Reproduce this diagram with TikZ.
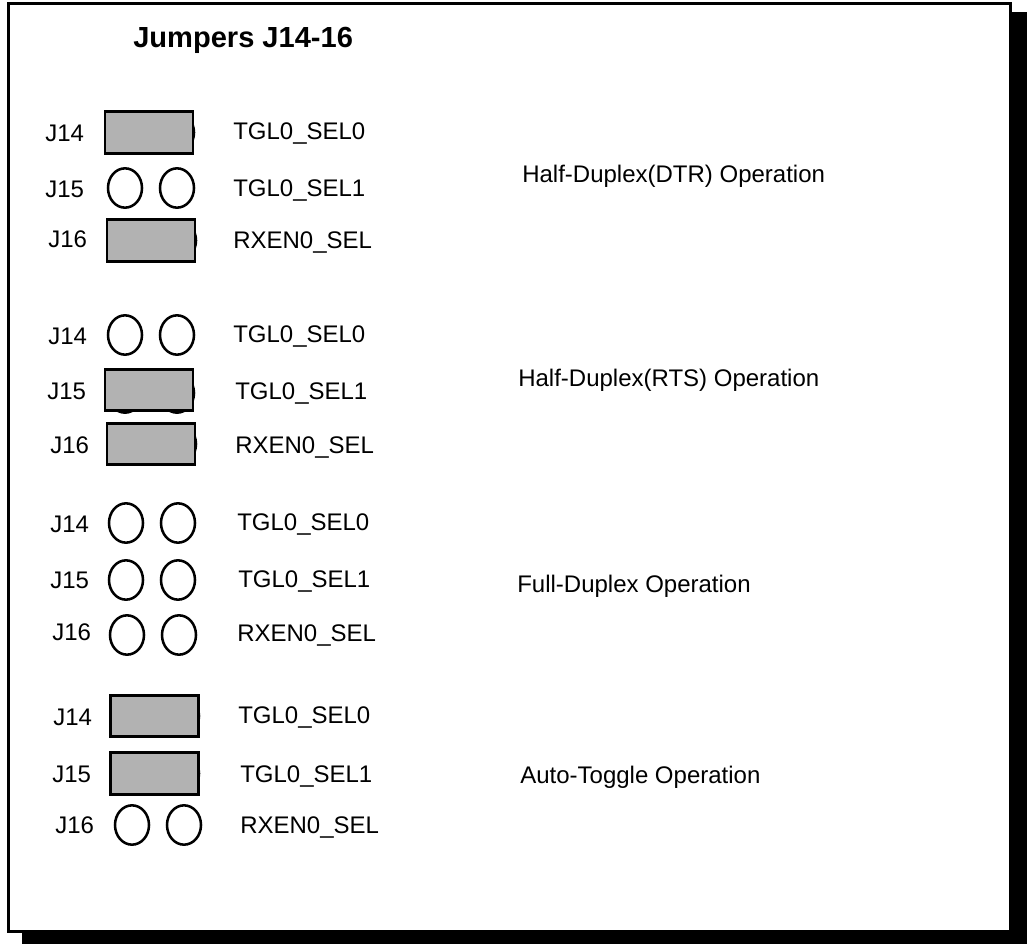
\documentclass[tikz,border=0pt]{standalone}
\usepackage{fontspec}
\setmainfont{Liberation Sans}
\usetikzlibrary{shapes.geometric}
\begin{document}
\begin{tikzpicture}[x=0.75pt,y=-0.75pt,
  lbl/.style={anchor=base west, inner sep=0pt, font=\fontsize{18pt}{20pt}\selectfont},
  ttl/.style={anchor=base west, inner sep=0pt, font=\fontsize{21.8pt}{25pt}\selectfont\bfseries},
  pin/.style={draw, ellipse, line width=1.9pt, minimum width=25.5pt, minimum height=29.5pt, inner sep=0pt},
  jumper/.style={draw, rectangle, line width=2.1pt, fill=black!30, minimum width=66pt, minimum height=31pt, inner sep=0pt},
  frame/.style={draw, fill=white, line width=2.2pt}]
\useasboundingbox (0,0) rectangle (1027,944);
% shadow and frame
\fill[black] (22,12) rectangle (1027,944);
\path[frame] (8.5,3.5) rectangle (1010.5,931.5);
% title
\node[ttl] (title) at (133,48) {Jumpers J14-16};

% ---------- Section 1: Half-Duplex(DTR)
\node[lbl] (a14) at (45,142) {J14};
\node[pin] (a14l) at (125,132.5) {};
\node[pin] (a14r) at (177,132.5) {};
\node[jumper] (a14j) at (149,132.5) {};
\node[lbl] (a14t) at (233,140) {TGL0\_SEL0};

\node[lbl] (a15) at (45,198) {J15};
\node[pin] (a15l) at (125,188) {};
\node[pin] (a15r) at (177,188) {};
\node[lbl] (a15t) at (233,197) {TGL0\_SEL1};

\node[lbl] (a16) at (48,248) {J16};
\node[pin] (a16l) at (127,240.5) {};
\node[pin] (a16r) at (179,240.5) {};
\node[jumper] (a16j) at (151,240.5) {};
\node[lbl] (a16t) at (233,249) {RXEN0\_SEL};

\node[lbl] (amode) at (522,183) {Half-Duplex(DTR) Operation};

% ---------- Section 2: Half-Duplex(RTS)
\node[lbl] (b14) at (48,345) {J14};
\node[pin] (b14l) at (125,335) {};
\node[pin] (b14r) at (177,335) {};
\node[lbl] (b14t) at (233,343) {TGL0\_SEL0};

\node[lbl] (b15) at (47,400) {J15};
\node[pin] (b15l) at (125,393) {};
\node[pin] (b15r) at (177,393) {};
\node[jumper] (b15j) at (149,390) {};
\node[lbl] (b15t) at (235,400) {TGL0\_SEL1};

\node[lbl] (b16) at (50,453) {J16};
\node[pin] (b16l) at (127,444) {};
\node[pin] (b16r) at (179,444) {};
\node[jumper] (b16j) at (151,444) {};
\node[lbl] (b16t) at (235,453) {RXEN0\_SEL};

\node[lbl] (bmode) at (518,387) {Half-Duplex(RTS) Operation};

% ---------- Section 3: Full-Duplex
\node[lbl] (c14) at (50,532) {J14};
\node[pin] (c14l) at (126,523) {};
\node[pin] (c14r) at (178,523) {};
\node[lbl] (c14t) at (237,530) {TGL0\_SEL0};

\node[lbl] (c15) at (50,588) {J15};
\node[pin] (c15l) at (126,580) {};
\node[pin] (c15r) at (178,580) {};
\node[lbl] (c15t) at (238,587) {TGL0\_SEL1};

\node[lbl] (c16) at (52,640) {J16};
\node[pin] (c16l) at (127,635) {};
\node[pin] (c16r) at (179,635) {};
\node[lbl] (c16t) at (237,641) {RXEN0\_SEL};

\node[lbl] (cmode) at (517,592) {Full-Duplex Operation};

% ---------- Section 4: Auto-Toggle
\node[lbl] (d14) at (53,725) {J14};
\node[pin] (d14l) at (130,716) {};
\node[pin] (d14r) at (182,716) {};
\node[jumper] (d14j) at (154.5,716) {};
\node[lbl] (d14t) at (238,723) {TGL0\_SEL0};

\node[lbl] (d15) at (52,782) {J15};
\node[pin] (d15l) at (130,773.5) {};
\node[pin] (d15r) at (182,773.5) {};
\node[jumper] (d15j) at (154.5,773.5) {};
\node[lbl] (d15t) at (240,782) {TGL0\_SEL1};

\node[lbl] (d16) at (55,833) {J16};
\node[pin] (d16l) at (132,825) {};
\node[pin] (d16r) at (184,825) {};
\node[lbl] (d16t) at (240,833) {RXEN0\_SEL};

\node[lbl] (dmode) at (520,783) {Auto-Toggle Operation};
\end{tikzpicture}
\end{document}
